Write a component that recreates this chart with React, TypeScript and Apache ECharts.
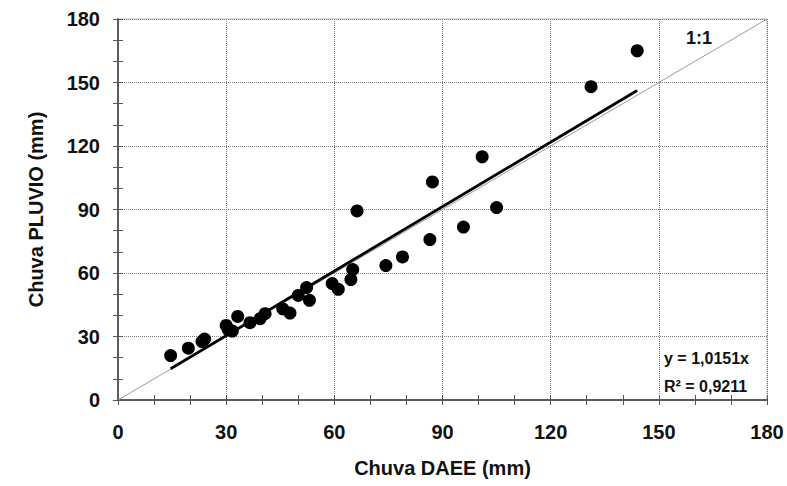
import React, { useEffect, useRef } from "react";
import * as echarts from "echarts";

// Observed pairs: Chuva DAEE (x, mm) vs Chuva PLUVIO (y, mm)
const daee = [14.6, 19.5, 23.3, 24.0, 30.0, 30.6, 31.7, 33.2, 36.6, 39.4, 40.8, 45.7, 47.7, 50.0, 52.3, 53.1, 59.4, 61.1, 64.6, 65.1, 66.3, 74.3, 78.9, 86.5, 87.2, 95.8, 101.0, 105.0, 131.2, 144.0];
const pluvio = [21.0, 24.5, 27.6, 28.8, 35.2, 33.2, 32.6, 39.5, 36.5, 38.4, 40.8, 43.1, 41.1, 49.4, 53.1, 47.1, 55.0, 52.3, 56.9, 61.6, 89.3, 63.5, 67.6, 75.8, 103.0, 81.7, 114.9, 90.9, 148.0, 165.0];

// Trend line (y = 1,0151x) end points
const trendX = [14.6, 144.0];
const trendY = [14.8, 146.2];

// 1:1 reference line
const refX = [0, 180];
const refY = [0, 180];

const axisTicks = [0, 30, 60, 90, 120, 150, 180];

const xTitle = "Chuva DAEE (mm)";
const yTitle = "Chuva PLUVIO (mm)";
const eqText = "y = 1,0151x";
const r2Text = "R² = 0,9211";
const refLabel = "1:1";

const FONT = "'Liberation Sans', Arial, sans-serif";

export default function App() {
  const ref = useRef<HTMLDivElement>(null);

  useEffect(() => {
    if (!ref.current) return;
    const chart = echarts.init(ref.current, null, { renderer: "svg" });

    const pts = daee.map((x, i) => [x, pluvio[i]]);
    const trend = trendX.map((x, i) => [x, trendY[i]]);
    const oneToOne = refX.map((x, i) => [x, refY[i]]);

    const baseAxis = () => ({
      type: "value" as const,
      min: axisTicks[0],
      max: axisTicks[axisTicks.length - 1],
      interval: axisTicks[1] - axisTicks[0],
    });

    const labelStyle = {
      fontFamily: FONT,
      fontWeight: "bold" as const,
      fontSize: 20,
      color: "#111",
    };

    const overlay = () => ({
      ...baseAxis(),
      gridIndex: 0,
      axisLine: { show: true, lineStyle: { color: "#555", width: 1.5 } },
      axisLabel: { show: false },
      splitLine: { show: false },
      axisTick: { show: true, inside: true, length: 5, lineStyle: { color: "#555" } },
      minorTick: { show: true, splitNumber: 3, length: 5, lineStyle: { color: "#555" } },
    });

    chart.setOption({
      animation: false,
      backgroundColor: "#fff",
      grid: {
        left: 118,
        right: 20,
        top: 19,
        bottom: 86,
        show: true,
        borderColor: "#bbb",
        borderWidth: 1,
        backgroundColor: "transparent",
      },
      xAxis: [
        {
          ...baseAxis(),
          name: xTitle,
          nameLocation: "middle",
          nameGap: 58,
          nameTextStyle: { ...labelStyle, fontSize: 20 },
          axisLine: { show: true, lineStyle: { color: "#555", width: 1.5 } },
          axisTick: { show: true, length: 5, lineStyle: { color: "#555" } },
          minorTick: { show: true, splitNumber: 3, length: 5, lineStyle: { color: "#555" } },
          axisLabel: { ...labelStyle, margin: 22 },
          splitLine: { show: true, lineStyle: { color: "#777", type: "dotted", width: 1 } },
        },
        { ...overlay(), position: "bottom" },
      ],
      yAxis: [
        {
          ...baseAxis(),
          name: yTitle,
          nameLocation: "middle",
          nameGap: 72,
          nameTextStyle: { ...labelStyle, fontSize: 20 },
          axisLine: { show: true, lineStyle: { color: "#555", width: 1.5 } },
          axisTick: { show: true, length: 5, lineStyle: { color: "#555" } },
          minorTick: { show: true, splitNumber: 3, length: 5, lineStyle: { color: "#555" } },
          axisLabel: { ...labelStyle, margin: 18 },
          splitLine: { show: true, lineStyle: { color: "#777", type: "dotted", width: 1 } },
        },
        { ...overlay(), position: "left" },
      ],
      series: [
        {
          type: "line",
          data: oneToOne,
          showSymbol: false,
          symbol: "none",
          lineStyle: { color: "#999", width: 1 },
          z: 1,
          silent: true,
        },
        {
          type: "line",
          data: trend,
          showSymbol: false,
          symbol: "none",
          lineStyle: { color: "#000", width: 2.8 },
          z: 2,
          silent: true,
        },
        {
          type: "scatter",
          data: pts,
          symbol: "circle",
          symbolSize: 13,
          itemStyle: { color: "#000", opacity: 1 },
          z: 3,
        },
      ],
      graphic: [
        {
          type: "text",
          left: 686,
          top: 29,
          style: { text: refLabel, font: `bold 18px ${FONT}`, fill: "#111" },
        },
        {
          type: "text",
          left: 664,
          top: 350,
          style: { text: eqText, font: `bold 16px ${FONT}`, fill: "#111" },
        },
        {
          type: "text",
          left: 664,
          top: 378,
          style: { text: r2Text, font: `bold 16px ${FONT}`, fill: "#111" },
        },
      ],
    });

    return () => chart.dispose();
  }, []);

  return (
    <div
      ref={ref}
      style={{ position: "fixed", left: 0, top: 0, width: 787, height: 486, background: "#fff" }}
    />
  );
}
